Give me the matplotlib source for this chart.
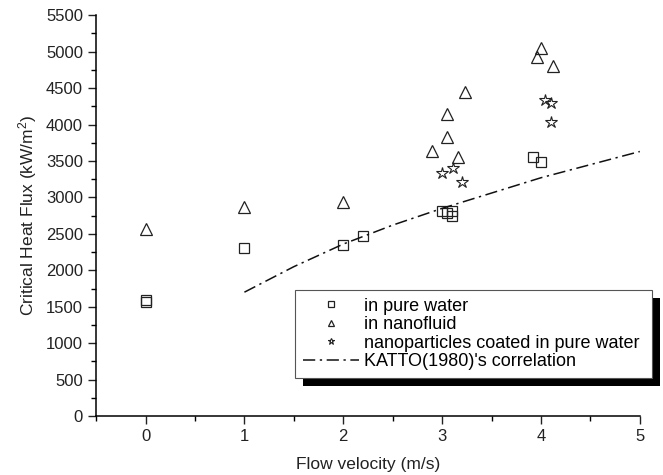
import numpy as np
import matplotlib
matplotlib.use('Agg')
import matplotlib.pyplot as plt
from matplotlib.patches import Rectangle
from matplotlib.ticker import MultipleLocator

plt.rcParams['font.family'] = ['Liberation Sans', 'DejaVu Sans']
plt.rcParams['mathtext.default'] = 'regular'

# data
water_x = [0, 0, 1, 2, 2.2, 3.0, 3.05, 3.1, 3.1, 3.92, 4.0]
water_y = [1590, 1560, 2310, 2350, 2470, 2820, 2790, 2810, 2740, 3550, 3490]

nano_x = [0, 1, 2, 2.9, 3.05, 3.05, 3.16, 3.23, 4.0, 3.96, 4.12]
nano_y = [2560, 2870, 2940, 3640, 4150, 3830, 3560, 4440, 5050, 4920, 4800]

coated_x = [3.0, 3.11, 3.2, 4.04, 4.1, 4.1]
coated_y = [3330, 3400, 3210, 4330, 4290, 4030]

katto_x = [1, 1.5, 2, 2.5, 3, 3.5, 4, 4.5, 5]
katto_y = [1700, 2050, 2360, 2620, 2850, 3060, 3270, 3450, 3630]

fig = plt.figure(figsize=(6.63, 4.75), dpi=100)
ax = fig.add_axes([0.145, 0.124, 0.82, 0.844])

ax.plot(water_x, water_y, ls='none', marker='s', ms=7.5, mfc='none', mec='#222222', mew=0.9,
        label='in pure water')
ax.plot(nano_x, nano_y, ls='none', marker='^', ms=9, mfc='none', mec='#222222', mew=0.9,
        label='in nanofluid')
ax.plot(coated_x, coated_y, ls='none', marker='*', ms=9, mfc='none', mec='#222222', mew=0.8,
        label='nanoparticles coated in pure water')
ax.plot(katto_x, katto_y, color='#111111', lw=1.1, ls=(0, (8, 3, 1.5, 3)),
        label="KATTO(1980)'s correlation")

ax.set_xlim(-0.5, 5)
ax.set_ylim(0, 5500)
ax.xaxis.set_major_locator(MultipleLocator(1))
ax.xaxis.set_minor_locator(MultipleLocator(0.5))
ax.yaxis.set_major_locator(MultipleLocator(500))
ax.yaxis.set_minor_locator(MultipleLocator(250))
ax.tick_params(which='major', direction='out', length=6, width=1, labelsize=12, colors='#222222')
ax.tick_params(which='minor', direction='out', length=3.5, width=1)
ax.spines['top'].set_visible(False)
ax.spines['right'].set_visible(False)
for s in ['left', 'bottom']:
    ax.spines[s].set_linewidth(1.1)

ax.set_xlabel('Flow velocity (m/s)', fontsize=12.5, color='#222222', labelpad=9)
ax.set_ylabel('Critical Heat Flux (kW/m$^2$)', fontsize=12.5, color='#222222', labelpad=5)

leg = ax.legend(loc='upper left', bbox_to_anchor=(0.366, 0.09, 0.656, 0.224), mode='expand',
                borderaxespad=0, fancybox=False, framealpha=1, edgecolor='#555555',
                fontsize=13, markerscale=0.5, handlelength=3.1, handletextpad=0.3,
                labelspacing=0.08, borderpad=0.42)
leg.get_frame().set_linewidth(0.8)

fig.canvas.draw()
bb = leg.get_window_extent().transformed(fig.transFigure.inverted())
dx, dy = 8 / 663, 8 / 475
ax.add_patch(Rectangle((bb.x0 + dx, bb.y0 - dy), bb.width, bb.height, transform=fig.transFigure,
                       facecolor='black', edgecolor='none', zorder=4.9, clip_on=False))

fig.savefig('out.png', dpi=100)
